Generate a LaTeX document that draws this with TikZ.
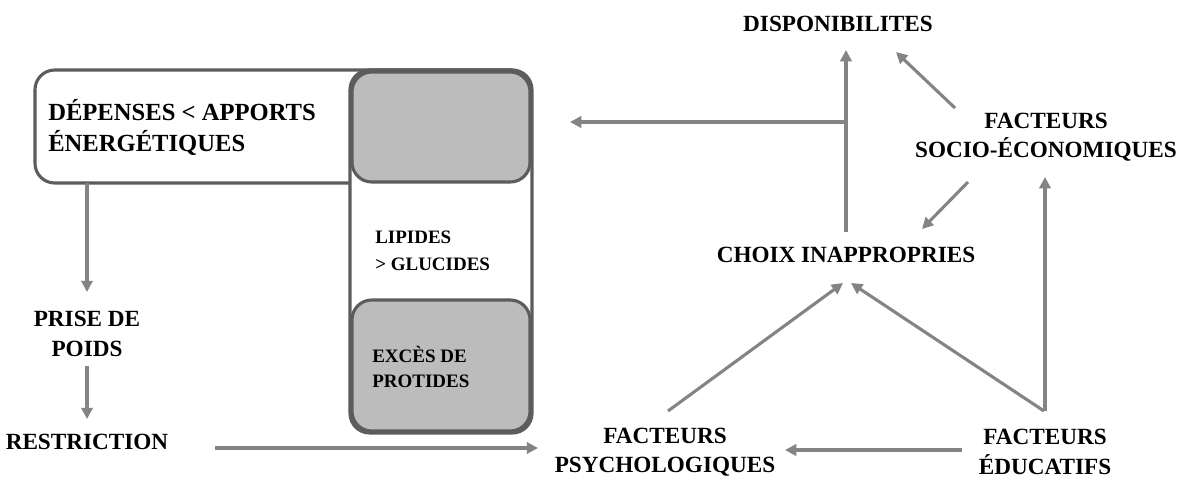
\documentclass[tikz,border=0pt]{standalone}
\usepackage{fontspec}
\setmainfont{Liberation Serif}
\usetikzlibrary{arrows.meta}
\definecolor{linegray}{RGB}{132,132,132}
\definecolor{boxline}{RGB}{92,92,92}
\definecolor{boxfill}{RGB}{188,188,188}
\begin{document}
\begin{tikzpicture}[x=0.025cm,y=-0.025cm,
  lbl/.style={font=\fontsize{16.5}{21}\selectfont\bfseries, align=center, inner sep=0pt},
  small/.style={font=\fontsize{13.5}{19}\selectfont\bfseries, align=left, inner sep=0pt, anchor=west},
  frame/.style={draw=boxline, line width=2.2pt, rounded corners=14pt},
  shaded/.style={frame, fill=boxfill},
  arr/.style={draw=linegray, line width=2.2pt, -{Triangle[length=8pt,width=8pt]}},
  seg/.style={draw=linegray, line width=2.2pt}]
\useasboundingbox (0,0) rectangle (1184,481);
\fill[white] (0,0) rectangle (1184,481);

% energy balance boxes
\draw[frame, fill=white] (35,70) rectangle (531,183);
\draw[frame, fill=white] (350,70) rectangle (532,433);
\draw[shaded] (352,72) rectangle (530,182);
\draw[shaded] (352,300) rectangle (530,431);

\node[lbl, anchor=west, align=left, font=\fontsize{17.5}{22}\selectfont\bfseries] (dep) at (48,127) {DÉPENSES < APPORTS\\ÉNERGÉTIQUES};
\node[small] (lip) at (375,251) {LIPIDES\\> GLUCIDES};
\node[small, font=\fontsize{13.5}{17.5}\selectfont\bfseries] (exc) at (372,367) {EXCÈS DE\\PROTIDES};

% left column
\node[lbl] (prise) at (87,334) {PRISE DE\\POIDS};
\node[lbl] (restr) at (87,442) {RESTRICTION};

% right network
\node[lbl] (dispo) at (838,24) {DISPONIBILITES};
\node[lbl] (socio) at (1046,137) {FACTEURS\\SOCIO-ÉCONOMIQUES};
\node[lbl] (choix) at (846,255) {CHOIX INAPPROPRIES};
\node[lbl] (psy) at (665,452) {FACTEURS\\PSYCHOLOGIQUES};
\node[lbl] (edu) at (1045,452) {FACTEURS\\ÉDUCATIFS};

% connector ends
\coordinate (depfoot) at (87,183);
\coordinate (jn) at (846,122);
\coordinate (depend) at (570,122);
\coordinate (restrend) at (215,448);
\coordinate (psyin) at (538,448);
\coordinate (eduout) at (962,450);
\coordinate (psyright) at (785,450);
\coordinate (edutop) at (1044,411);
\coordinate (psytop) at (668,411);

\draw[arr] (depfoot) -- (87,292);
\draw[arr] (87,366) -- (87,419);
\draw[arr] (restrend) -- (psyin);
\draw[arr] (eduout) -- (psyright);
\draw[arr] (psytop) -- (843,283);
\draw[arr] (edutop) -- (851,283);
\draw[arr] (1045,411) -- (1045,177);
\draw[arr] (968,182) -- (922,229);
\draw[arr] (955,108) -- (896,52);
\draw[arr] (846,232) -- (846,50);
\draw[arr] (jn) -- (depend);
\end{tikzpicture}
\end{document}
